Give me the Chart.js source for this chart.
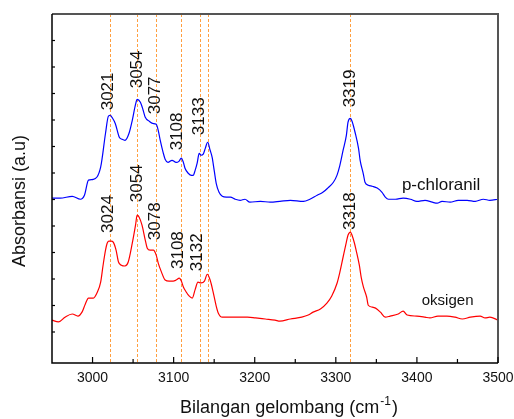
<!DOCTYPE html>
<html>
<head>
<meta charset="utf-8">
<script src="https://cdn.jsdelivr.net/npm/chart.js@4.4.1/dist/chart.umd.min.js"></script>
<style>
  html, body { margin: 0; padding: 0; background: #fff; }
  canvas { display: block; }
</style>
</head>
<body>
<canvas id="chart" width="514" height="419"></canvas>
<script>
// spectrum (wavenumber cm-1, arbitrary absorbance)
const wnBlue = [2950, 2960, 2975, 2985, 2990, 2995, 3001, 3010, 3016, 3019.5, 3022, 3024, 3028, 3033, 3036.5, 3040, 3045, 3049, 3053, 3055, 3059, 3062.5, 3065, 3070, 3074, 3078.5, 3081, 3083.5, 3087, 3089.5, 3093, 3098, 3103, 3106.5, 3109.5, 3112, 3114, 3118, 3122, 3124, 3126.5, 3129, 3131.5, 3134, 3136.5, 3139, 3142, 3145, 3147.5, 3150, 3152.5, 3156, 3160, 3165, 3170, 3176, 3182, 3188, 3194, 3207, 3219, 3231, 3244, 3260, 3268, 3277, 3284, 3290, 3297, 3301.5, 3305, 3309, 3313, 3315, 3318, 3320, 3324, 3328, 3330, 3334, 3336, 3340, 3345, 3351, 3357, 3361, 3365, 3373.5, 3383, 3392, 3400, 3410, 3419, 3425, 3431, 3441, 3451, 3462, 3472, 3482, 3490, 3500];
const absBlue = [6.05, 6.05, 6.12, 6.01, 6.16, 6.73, 6.76, 7.22, 8.50, 9.14, 9.18, 9.10, 8.87, 8.35, 8.27, 8.23, 8.50, 8.99, 9.59, 9.78, 9.67, 9.36, 9.10, 8.95, 8.87, 8.84, 8.61, 8.23, 7.78, 7.52, 7.40, 7.48, 7.40, 7.44, 7.56, 7.40, 7.18, 6.99, 6.91, 6.91, 7.10, 7.37, 7.74, 7.67, 7.71, 7.93, 8.16, 7.86, 7.59, 7.10, 6.61, 6.27, 6.12, 6.09, 6.09, 6.01, 5.97, 6.01, 5.90, 5.93, 5.90, 5.93, 5.97, 5.93, 6.01, 6.16, 6.27, 6.43, 6.65, 6.92, 7.29, 7.86, 8.42, 8.91, 9.06, 8.95, 8.50, 7.93, 7.48, 6.95, 6.65, 6.54, 6.50, 6.43, 6.27, 6.09, 6.01, 6.01, 6.05, 6.01, 5.93, 5.97, 5.90, 5.86, 5.93, 5.90, 5.97, 5.97, 5.93, 6.01, 5.97, 6.01];

const wnRed = [2950, 2958, 2966, 2975, 2982, 2987, 2991, 2995, 3001, 3006, 3010, 3013, 3016, 3018, 3020, 3023, 3025.5, 3029, 3032, 3035.5, 3040, 3044, 3049, 3053, 3055, 3057.5, 3061, 3065, 3067.5, 3071, 3075, 3078.5, 3081, 3085, 3089.5, 3094.5, 3099.5, 3103, 3107, 3109.5, 3112, 3115.5, 3119, 3123, 3126.5, 3130, 3134, 3138, 3141.5, 3145, 3149, 3152.5, 3155, 3160, 3166, 3176, 3191, 3201, 3213, 3225, 3231, 3244, 3258, 3266, 3272, 3281, 3289, 3295, 3301.5, 3305, 3309, 3313, 3315, 3318, 3320, 3323, 3325, 3329, 3331.5, 3334, 3338, 3340, 3345, 3349, 3355, 3361, 3367, 3377, 3383, 3388, 3400, 3410, 3416, 3426, 3437, 3447, 3456, 3466, 3478, 3484, 3490, 3500];
const absRed = [1.45, 1.38, 1.56, 1.68, 1.60, 1.75, 2.05, 2.28, 2.28, 2.51, 2.88, 3.52, 4.09, 4.35, 4.43, 4.43, 4.39, 4.09, 3.64, 3.52, 3.49, 3.64, 4.35, 5.03, 5.41, 5.33, 5.03, 4.47, 4.16, 4.09, 4.09, 3.90, 3.60, 3.26, 2.96, 2.92, 2.92, 2.96, 3.03, 2.92, 2.70, 2.51, 2.36, 2.28, 2.60, 2.88, 2.85, 2.92, 3.18, 2.96, 2.47, 1.98, 1.72, 1.56, 1.56, 1.56, 1.56, 1.53, 1.49, 1.45, 1.41, 1.49, 1.56, 1.64, 1.75, 1.87, 2.09, 2.36, 2.84, 3.26, 3.83, 4.39, 4.65, 4.77, 4.65, 4.35, 4.09, 3.52, 3.03, 2.70, 2.32, 2.01, 1.94, 1.90, 1.75, 1.56, 1.60, 1.68, 1.79, 1.64, 1.60, 1.56, 1.53, 1.60, 1.60, 1.56, 1.49, 1.56, 1.60, 1.53, 1.56, 1.45];

const seriesNames = ['p-chloranil', 'oksigen'];
const xTicks = [3000, 3100, 3200, 3300, 3400, 3500];
const xMinorTicks = [3050, 3150, 3250, 3350, 3450];
const yTicks = [1, 2, 3, 4, 5, 6, 7, 8, 9, 10, 11, 12];

// dashed peak markers
const peakLines = [3022, 3055, 3078, 3109, 3133, 3142, 3318];

// peak labels and where they sit (wavenumber, absorbance)
const peakTextBlue = ['3021', '3054', '3077', '3108', '3133', '3319'];
const peakAtBlue = [[3019.5, 10.08], [3055, 10.91], [3077, 9.93], [3104, 8.57], [3131.5, 9.14], [3318, 10.19]];
const peakTextRed = ['3024', '3054', '3078', '3108', '3132', '3318'];
const peakAtRed = [[3019.5, 5.45], [3055, 6.61], [3077, 5.18], [3106, 4.09], [3129, 4.01], [3318, 5.56]];
const nameAt = [[3381.5, 6.35], [3406, 2.02]];

const FONT = "'Liberation Sans', Arial, sans-serif";

const overlay = {
    id: 'overlay',
    beforeDatasetsDraw(chart) {
        const { ctx, chartArea: a, scales: { x } } = chart;
        ctx.save();
        ctx.strokeStyle = '#FF9F40';
        ctx.lineWidth = 1;
        ctx.setLineDash([3, 2]);
        peakLines.forEach(v => {
            const px = Math.round(x.getPixelForValue(v)) + 0.5;
            ctx.beginPath();
            ctx.moveTo(px, a.top);
            ctx.lineTo(px, a.bottom);
            ctx.stroke();
        });
        ctx.restore();
    },
    afterDatasetsDraw(chart) {
        const { ctx, chartArea: a, scales: { x, y } } = chart;
        ctx.save();

        // frame
        ctx.strokeStyle = '#555';
        ctx.lineWidth = 2;
        ctx.beginPath();
        ctx.moveTo(a.left, a.top);
        ctx.lineTo(a.right, a.top);
        ctx.lineTo(a.right, a.bottom);
        ctx.stroke();
        ctx.strokeStyle = '#000';
        ctx.lineWidth = 1.5;
        ctx.beginPath();
        ctx.moveTo(a.left, a.top);
        ctx.lineTo(a.left, a.bottom);
        ctx.lineTo(a.right, a.bottom);
        ctx.stroke();

        // inward ticks
        ctx.lineWidth = 1.2;
        xTicks.forEach(v => {
            const px = x.getPixelForValue(v);
            ctx.beginPath();
            ctx.moveTo(px, a.bottom);
            ctx.lineTo(px, a.bottom - 6);
            ctx.stroke();
        });
        xMinorTicks.forEach(v => {
            const px = x.getPixelForValue(v);
            ctx.beginPath();
            ctx.moveTo(px, a.bottom);
            ctx.lineTo(px, a.bottom - 4);
            ctx.stroke();
        });
        yTicks.forEach(v => {
            const py = y.getPixelForValue(v);
            ctx.beginPath();
            ctx.moveTo(a.left, py);
            ctx.lineTo(a.left + 3, py);
            ctx.stroke();
        });

        // x tick labels
        ctx.fillStyle = '#111';
        ctx.font = '14px ' + FONT;
        ctx.textAlign = 'center';
        ctx.textBaseline = 'middle';
        xTicks.forEach(v => ctx.fillText(String(v), x.getPixelForValue(v), a.bottom + 15));

        // peak labels, rotated
        ctx.font = '17px ' + FONT;
        const rotText = (t, p) => {
            ctx.save();
            ctx.translate(x.getPixelForValue(p[0]), y.getPixelForValue(p[1]));
            ctx.rotate(-Math.PI / 2);
            ctx.fillText(t, 0, 0);
            ctx.restore();
        };
        peakTextBlue.forEach((t, i) => rotText(t, peakAtBlue[i]));
        peakTextRed.forEach((t, i) => rotText(t, peakAtRed[i]));

        // series names
        ctx.textAlign = 'left';
        ctx.textBaseline = 'alphabetic';
        ctx.font = '17px ' + FONT;
        ctx.fillText(seriesNames[0], x.getPixelForValue(nameAt[0][0]), y.getPixelForValue(nameAt[0][1]));
        ctx.font = '15px ' + FONT;
        ctx.fillText(seriesNames[1], x.getPixelForValue(nameAt[1][0]), y.getPixelForValue(nameAt[1][1]));

        // axis titles
        ctx.font = '18px ' + FONT;
        const main = 'Bilangan gelombang (cm';
        const sup = '-1';
        const tail = ')';
        const wMain = ctx.measureText(main).width;
        const wTail = ctx.measureText(tail).width;
        ctx.font = '12px ' + FONT;
        const wSup = ctx.measureText(sup).width;
        let tx = 289 - (wMain + wSup + wTail + 2) / 2;
        ctx.font = '18px ' + FONT;
        ctx.fillText(main, tx, 413);
        ctx.font = '12px ' + FONT;
        ctx.fillText(sup, tx + wMain + 1, 405);
        ctx.font = '18px ' + FONT;
        ctx.fillText(tail, tx + wMain + wSup + 2, 413);

        ctx.save();
        ctx.translate(20, 201);
        ctx.rotate(-Math.PI / 2);
        ctx.textAlign = 'center';
        ctx.textBaseline = 'middle';
        ctx.fillText('Absorbansi (a.u)', 0, 0);
        ctx.restore();

        ctx.restore();
    }
};

const toPoints = (xs, ys) => xs.map((v, i) => ({ x: v, y: ys[i] }));

new Chart(document.getElementById('chart'), {
    type: 'line',
    data: {
        datasets: [{
            label: seriesNames[0],
            data: toPoints(wnBlue, absBlue),
            borderColor: '#0000FF',
            borderWidth: 1.2,
            pointRadius: 0,
            cubicInterpolationMode: 'monotone',
            fill: false
        }, {
            label: seriesNames[1],
            data: toPoints(wnRed, absRed),
            borderColor: '#FF0000',
            borderWidth: 1.2,
            pointRadius: 0,
            cubicInterpolationMode: 'monotone',
            fill: false
        }]
    },
    options: {
        responsive: false,
        animation: false,
        devicePixelRatio: 1,
        layout: { padding: { left: 52, right: 16, top: 14, bottom: 56 } },
        plugins: { legend: { display: false }, tooltip: { enabled: false } },
        scales: {
            x: {
                type: 'linear',
                display: false,
                min: 2950,
                max: 3500
            },
            y: {
                display: false,
                min: -0.17,
                max: 13
            }
        }
    },
    plugins: [overlay]
});
</script>
</body>
</html>
